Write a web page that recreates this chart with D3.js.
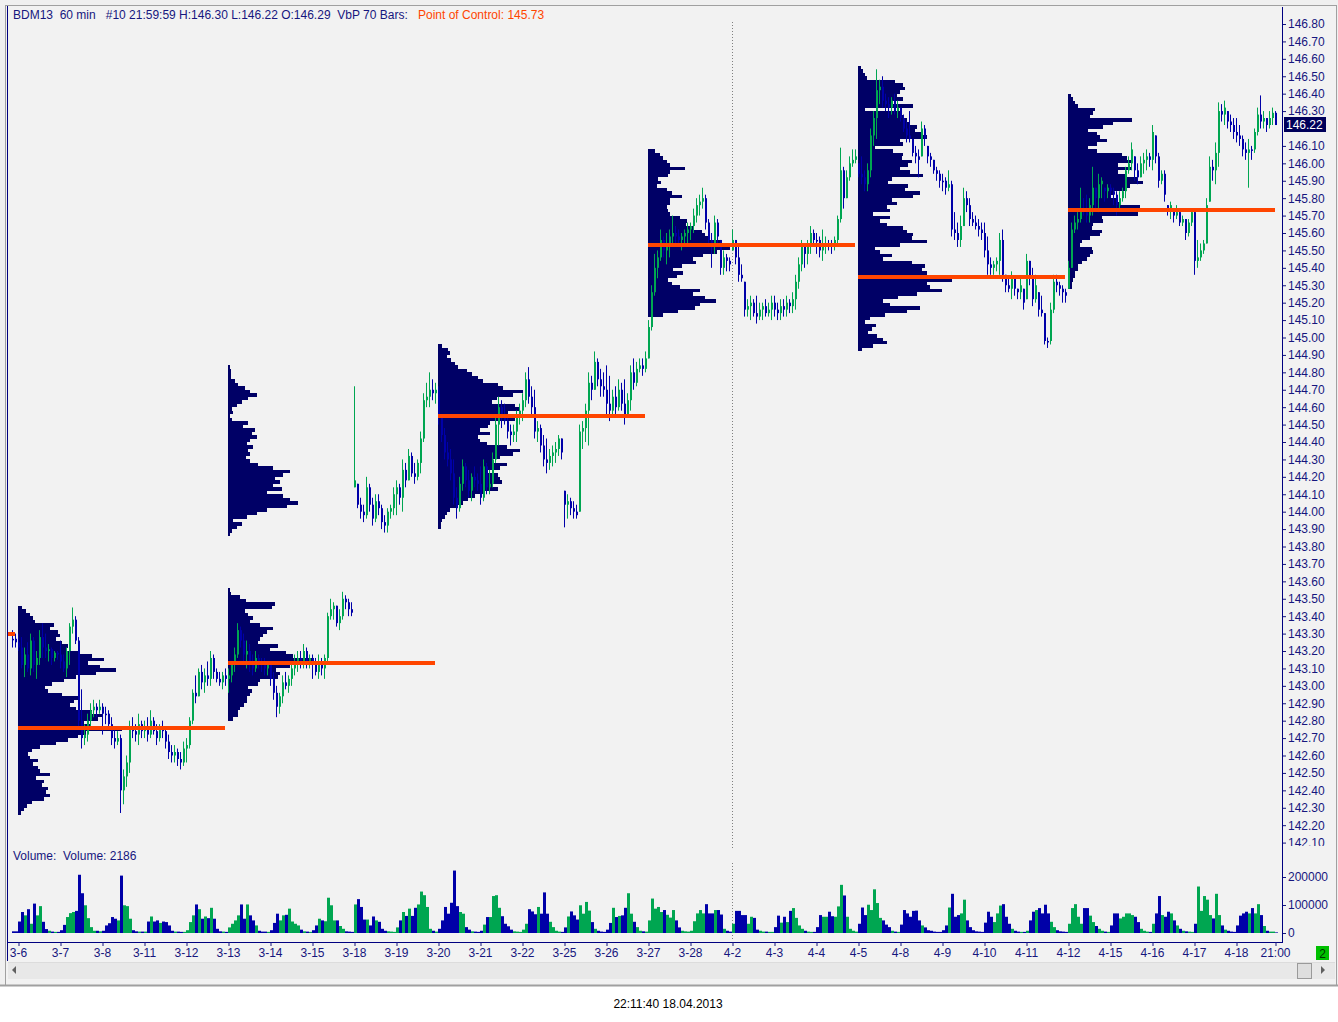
<!DOCTYPE html>
<html>
<head>
<meta charset="utf-8">
<script src="https://cdn.jsdelivr.net/npm/d3@7"></script>
<style>
html, body { margin: 0; padding: 0; background: #fff; }
svg { display: block; font-family: "Liberation Sans", Arial, sans-serif; }
</style>
</head>
<body>
<svg id="chart" width="1338" height="1022"></svg>
<script>

// ---- data ----

var dateLabels = ["3-6","3-7","3-8","3-11","3-12","3-13","3-14","3-15","3-18","3-19",
	"3-20","3-21","3-22","3-25","3-26","3-27","3-28","4-2","4-3","4-4",
	"4-5","4-8","4-9","4-10","4-11","4-12","4-15","4-16","4-17","4-18"];
var lastLabel = "21:00";
var barsPerDay = 14;

// hourly bars [high, low, close], one row per day; first row = tail of 3-5
var hlcDays = [
	[[143.32,143.22,143.27],[143.30,143.22,143.25]],
	[[143.30,143.20,143.22],[143.28,143.10,143.12],[143.22,143.05,143.18],[143.25,143.08,143.10],[143.30,143.06,143.26],[143.28,143.08,143.12],[143.20,143.04,143.16],[143.32,143.12,143.28],[143.36,143.16,143.22],[143.30,143.16,143.20],[143.24,143.14,143.21],[143.22,143.12,143.16],[143.20,143.14,143.19],[143.20,143.15,143.18]],
	[[143.26,143.10,143.14],[143.18,143.08,143.10],[143.22,143.05,143.20],[143.36,143.12,143.34],[143.45,143.30,143.38],[143.40,143.24,143.26],[143.28,142.76,142.80],[142.98,142.64,142.70],[142.78,142.66,142.72],[142.84,142.68,142.80],[142.90,142.76,142.86],[142.92,142.82,142.88],[142.90,142.82,142.86],[142.92,142.84,142.88]],
	[[142.90,142.72,142.84],[142.88,142.78,142.84],[142.86,142.76,142.78],[142.82,142.66,142.70],[142.76,142.64,142.68],[142.74,142.66,142.70],[142.72,142.27,142.40],[142.52,142.32,142.48],[142.60,142.42,142.56],[142.80,142.50,142.76],[142.82,142.70,142.74],[142.78,142.68,142.72],[142.84,142.66,142.78],[142.80,142.70,142.74]],
	[[142.80,142.70,142.76],[142.82,142.68,142.72],[142.86,142.70,142.80],[142.82,142.72,142.74],[142.78,142.66,142.70],[142.78,142.68,142.76],[142.80,142.70,142.74],[142.76,142.64,142.68],[142.72,142.58,142.62],[142.66,142.56,142.60],[142.66,142.56,142.62],[142.64,142.54,142.58],[142.62,142.52,142.56],[142.68,142.54,142.64]],
	[[142.70,142.56,142.66],[142.82,142.64,142.80],[142.98,142.78,142.96],[143.06,142.90,142.94],[143.10,142.94,143.08],[143.12,142.98,143.02],[143.10,142.96,143.06],[143.14,143.00,143.04],[143.20,143.00,143.16],[143.18,143.04,143.08],[143.10,143.02,143.04],[143.08,143.00,143.02],[143.08,142.98,143.06],[143.10,143.00,143.04]],
	[[143.10,142.96,143.06],[143.14,143.02,143.12],[143.22,143.08,143.18],[143.36,143.16,143.32],[143.34,143.22,143.26],[143.30,143.14,143.18],[143.26,143.10,143.20],[143.24,143.08,143.12],[143.18,143.06,143.10],[143.20,143.08,143.16],[143.18,143.10,143.14],[143.16,143.08,143.12],[143.16,143.06,143.10],[143.14,143.06,143.12]],
	[[143.14,143.00,143.04],[143.08,142.92,142.96],[143.00,142.82,142.88],[142.96,142.84,142.94],[143.06,142.90,143.02],[143.08,142.98,143.00],[143.06,142.96,143.04],[143.12,143.00,143.10],[143.18,143.06,143.14],[143.20,143.08,143.16],[143.20,143.10,143.12],[143.24,143.10,143.20],[143.22,143.10,143.14],[143.18,143.10,143.16]],
	[[143.18,143.04,143.12],[143.16,143.06,143.08],[143.18,143.04,143.14],[143.16,143.06,143.10],[143.18,143.04,143.16],[143.42,143.12,143.40],[143.50,143.38,143.44],[143.48,143.38,143.46],[143.46,143.34,143.36],[143.44,143.32,143.40],[143.54,143.38,143.50],[143.52,143.44,143.48],[143.50,143.40,143.44],[143.48,143.40,143.42]],
	[[144.72,144.14,144.18],[144.16,144.02,144.04],[144.08,143.96,144.00],[144.04,143.94,143.98],[144.20,143.96,144.14],[144.16,144.00,144.04],[144.08,143.92,143.96],[144.10,143.94,144.06],[144.10,143.98,144.02],[144.04,143.90,143.94],[143.98,143.88,143.92],[144.02,143.88,144.00],[144.04,143.96,144.02],[144.14,143.98,144.10]],
	[[144.18,143.98,144.14],[144.16,144.04,144.08],[144.30,144.00,144.24],[144.28,144.14,144.18],[144.36,144.18,144.32],[144.34,144.20,144.22],[144.28,144.16,144.20],[144.30,144.18,144.28],[144.46,144.22,144.42],[144.68,144.40,144.64],[144.74,144.60,144.66],[144.80,144.60,144.70],[144.76,144.64,144.68],[144.74,144.62,144.70]],
	[[144.72,144.50,144.54],[144.54,144.40,144.44],[144.48,144.30,144.34],[144.40,144.26,144.30],[144.36,144.18,144.22],[144.30,144.04,144.08],[144.14,143.96,144.02],[144.20,144.00,144.16],[144.30,144.12,144.26],[144.28,144.14,144.18],[144.24,144.08,144.12],[144.22,144.06,144.20],[144.26,144.14,144.18],[144.22,144.12,144.16]],
	[[144.26,144.04,144.08],[144.30,144.06,144.26],[144.28,144.10,144.14],[144.24,144.10,144.16],[144.34,144.14,144.30],[144.54,144.28,144.50],[144.66,144.38,144.60],[144.64,144.48,144.56],[144.62,144.50,144.52],[144.56,144.42,144.46],[144.50,144.38,144.44],[144.50,144.40,144.46],[144.58,144.40,144.54],[144.62,144.50,144.58]],
	[[144.68,144.52,144.64],[144.80,144.60,144.76],[144.83,144.62,144.66],[144.72,144.56,144.60],[144.70,144.42,144.46],[144.52,144.40,144.48],[144.50,144.34,144.38],[144.44,144.26,144.30],[144.42,144.22,144.28],[144.36,144.24,144.32],[144.38,144.26,144.34],[144.40,144.28,144.36],[144.44,144.32,144.42],[144.42,144.30,144.34]],
	[[144.12,143.91,144.04],[144.10,143.96,144.06],[144.08,143.98,144.02],[144.06,143.96,144.00],[144.04,143.96,143.98],[144.50,144.00,144.46],[144.52,144.36,144.48],[144.62,144.40,144.58],[144.80,144.38,144.74],[144.78,144.64,144.70],[144.92,144.70,144.86],[144.88,144.72,144.76],[144.82,144.66,144.72],[144.80,144.66,144.70]],
	[[144.84,144.54,144.62],[144.78,144.52,144.58],[144.70,144.54,144.66],[144.72,144.56,144.60],[144.76,144.58,144.70],[144.74,144.58,144.62],[144.76,144.50,144.56],[144.68,144.54,144.64],[144.84,144.58,144.80],[144.88,144.70,144.74],[144.86,144.72,144.82],[144.88,144.80,144.84],[144.88,144.78,144.82],[144.92,144.80,144.88]],
	[[145.10,144.88,145.06],[145.30,145.04,145.26],[145.48,145.24,145.40],[145.50,145.34,145.46],[145.62,145.44,145.56],[145.58,145.46,145.50],[145.60,145.42,145.54],[145.62,145.46,145.58],[145.70,145.54,145.60],[145.64,145.54,145.58],[145.62,145.52,145.56],[145.60,145.50,145.58],[145.62,145.52,145.60],[145.66,145.54,145.62]],
	[[145.66,145.56,145.64],[145.74,145.60,145.70],[145.80,145.66,145.76],[145.82,145.70,145.78],[145.86,145.74,145.80],[145.82,145.62,145.66],[145.68,145.52,145.56],[145.60,145.40,145.52],[145.70,145.48,145.66],[145.68,145.54,145.58],[145.56,145.36,145.40],[145.50,145.36,145.46],[145.48,145.38,145.44],[145.46,145.38,145.42]],
	[[145.62,145.50,145.56],[145.56,145.42,145.46],[145.52,145.32,145.36],[145.42,145.32,145.34],[145.32,145.12,145.16],[145.22,145.12,145.18],[145.24,145.10,145.20],[145.22,145.12,145.14],[145.24,145.08,145.12],[145.20,145.10,145.16],[145.20,145.10,145.18],[145.22,145.12,145.14],[145.20,145.12,145.16],[145.24,145.10,145.20]],
	[[145.24,145.12,145.16],[145.20,145.10,145.14],[145.22,145.10,145.18],[145.22,145.12,145.16],[145.24,145.12,145.20],[145.22,145.14,145.18],[145.26,145.14,145.22],[145.36,145.16,145.32],[145.46,145.28,145.42],[145.56,145.38,145.52],[145.54,145.40,145.48],[145.56,145.42,145.52],[145.64,145.48,145.60],[145.62,145.52,145.56]],
	[[145.60,145.48,145.56],[145.58,145.46,145.50],[145.62,145.44,145.52],[145.58,145.48,145.54],[145.56,145.50,145.54],[145.56,145.48,145.52],[145.58,145.50,145.56],[145.70,145.52,145.68],[146.09,145.66,145.96],[145.98,145.74,145.80],[145.96,145.80,145.92],[146.04,145.90,146.00],[146.08,145.98,146.02],[146.08,146.00,146.04]],
	[[146.00,145.92,145.94],[146.04,145.88,145.92],[145.96,145.84,145.88],[146.00,145.84,145.96],[146.20,145.92,146.16],[146.30,146.10,146.26],[146.54,146.14,146.42],[146.48,146.34,146.44],[146.50,146.32,146.36],[146.40,146.30,146.34],[146.38,146.26,146.32],[146.38,146.28,146.36],[146.40,146.28,146.30],[146.36,146.26,146.32]],
	[[146.32,146.24,146.26],[146.28,146.18,146.20],[146.24,146.12,146.16],[146.30,146.12,146.14],[146.14,146.04,146.06],[146.10,146.00,146.04],[146.08,145.92,146.02],[146.24,146.04,146.20],[146.22,146.10,146.14],[146.10,146.00,146.04],[146.06,145.98,146.02],[146.02,145.94,145.96],[145.98,145.90,145.94],[145.96,145.86,145.90]],
	[[145.94,145.84,145.90],[145.92,145.82,145.86],[145.96,145.84,145.88],[145.90,145.58,145.62],[145.72,145.56,145.60],[145.66,145.52,145.56],[145.70,145.52,145.64],[145.86,145.64,145.80],[145.84,145.72,145.76],[145.80,145.64,145.68],[145.72,145.64,145.66],[145.70,145.62,145.64],[145.68,145.58,145.62],[145.66,145.56,145.60]],
	[[145.66,145.46,145.50],[145.58,145.36,145.42],[145.46,145.36,145.40],[145.44,145.36,145.42],[145.46,145.38,145.44],[145.60,145.36,145.56],[145.62,145.32,145.36],[145.36,145.26,145.30],[145.34,145.26,145.28],[145.38,145.22,145.34],[145.34,145.24,145.28],[145.28,145.22,145.26],[145.34,145.22,145.30],[145.28,145.16,145.20]],
	[[145.48,145.22,145.44],[145.44,145.30,145.34],[145.40,145.18,145.22],[145.36,145.20,145.30],[145.26,145.12,145.16],[145.24,145.12,145.14],[145.14,144.96,144.98],[145.00,144.94,144.98],[145.20,144.96,145.16],[145.36,145.14,145.32],[145.36,145.26,145.30],[145.32,145.24,145.28],[145.30,145.20,145.26],[145.28,145.20,145.24]],
	[[145.44,145.28,145.40],[145.66,145.40,145.62],[145.70,145.60,145.66],[145.72,145.62,145.68],[145.86,145.66,145.74],[145.80,145.70,145.72],[145.82,145.66,145.70],[145.80,145.66,145.76],[145.98,145.70,145.86],[145.86,145.74,145.80],[145.94,145.72,145.88],[145.92,145.80,145.90],[145.86,145.78,145.84],[145.88,145.80,145.86]],
	[[145.88,145.80,145.84],[145.86,145.76,145.82],[145.84,145.70,145.76],[145.84,145.74,145.80],[145.86,145.78,145.84],[145.98,145.80,145.96],[146.04,145.94,146.00],[146.12,145.96,146.08],[146.04,145.90,145.96],[146.00,145.88,145.92],[146.04,145.92,146.00],[146.06,145.94,146.02],[146.08,145.96,146.04],[146.06,145.98,146.02]],
	[[146.22,145.96,146.18],[146.16,146.00,146.04],[146.06,145.86,145.90],[145.96,145.88,145.94],[145.96,145.78,145.82],[145.76,145.70,145.74],[145.78,145.68,145.76],[145.74,145.66,145.70],[145.76,145.68,145.72],[145.72,145.64,145.66],[145.70,145.64,145.68],[145.68,145.56,145.60],[145.68,145.58,145.66],[145.74,145.64,145.72]],
	[[145.74,145.36,145.44],[145.56,145.40,145.46],[145.54,145.44,145.50],[145.56,145.48,145.54],[145.80,145.54,145.76],[146.04,145.78,145.98],[146.02,145.90,145.96],[146.12,145.88,146.06],[146.35,145.98,146.30],[146.34,146.24,146.28],[146.36,146.22,146.32],[146.30,146.20,146.24],[146.28,146.18,146.22],[146.26,146.14,146.18]],
	[[146.26,146.12,146.16],[146.22,146.10,146.14],[146.16,146.04,146.08],[146.12,146.02,146.06],[146.14,145.86,146.08],[146.10,146.02,146.08],[146.20,146.06,146.18],[146.32,146.16,146.28],[146.39,146.20,146.24],[146.30,146.20,146.26],[146.26,146.18,146.22],[146.30,146.20,146.26],[146.32,146.22,146.29],[146.30,146.22,146.22]]
];

// hourly volume, thousands of contracts
var volDays = [
	[6,6],
	[41,75,63,85,33,105,63,96,40,14,8,5,4,4],
	[10,29,57,71,75,79,208,142,99,53,21,8,8,6],
	[8,27,35,57,51,45,205,99,96,51,10,6,5,5],
	[5,41,59,41,45,36,41,39,27,8,5,5,4,4],
	[10,39,63,102,85,51,59,53,90,51,15,6,5,4],
	[20,33,45,63,102,51,102,63,45,27,8,5,5,4],
	[10,36,69,45,63,65,87,41,33,27,12,6,5,4],
	[10,27,51,45,42,126,99,45,45,25,15,6,5,4],
	[102,121,93,48,48,27,59,45,40,15,8,6,5,4],
	[20,45,75,61,87,61,90,102,148,135,93,15,8,5],
	[15,45,93,69,108,223,96,75,69,21,12,6,5,4],
	[8,30,57,57,132,135,90,60,33,24,12,6,5,4],
	[12,33,85,77,67,93,69,145,69,40,21,8,5,4],
	[20,59,77,63,48,99,69,111,80,39,15,8,5,4],
	[12,36,90,57,61,63,90,142,69,40,21,8,6,5],
	[45,123,87,93,75,82,65,55,82,45,20,8,6,5],
	[8,42,70,82,70,103,70,70,82,82,66,15,8,5],
	[33,79,79,64,64,33,58,54,12,8,5,5,4,4],
	[21,62,37,58,39,79,89,54,27,15,8,5,4,4],
	[21,64,58,58,76,60,58,95,172,134,58,15,8,5],
	[33,91,64,101,82,156,107,54,45,30,21,8,5,4],
	[30,82,70,58,79,80,45,27,20,10,8,5,4,4],
	[10,27,91,140,58,64,70,119,45,21,10,6,5,4],
	[37,76,58,39,70,98,103,58,33,15,8,5,4,4],
	[8,45,76,82,89,70,101,70,40,21,10,6,5,4],
	[33,89,103,58,33,89,89,62,39,25,15,8,5,4],
	[27,70,70,52,58,70,70,64,58,39,15,8,5,4],
	[33,70,132,64,58,76,70,45,27,15,8,6,5,4],
	[33,166,79,132,119,64,52,140,64,27,12,8,5,4],
	[27,62,70,76,70,89,70,103,64,25,8,5,5,2.186]
];

// volume by price, 70 bars each; rows of 0.02 listed from the top price down
var vbpBars = 70;
var vbpStep = 0.02;
var vbpTops = [143.45, 144.83, 144.95, 146.07, 146.55, 146.39];
var vbpRows = [
	[4,8,12,15,17,36,32,40,42,38,44,50,48,62,74,86,70,82,98,78,58,46,34,27,30,44,62,56,52,58,74,84,80,66,72,104,68,60,50,38,22,14,10,12,20,15,20,22,32,18,26,24,30,28,32,26,14,9,6,3],
	[2,3,3,3,7,10,17,22,29,20,14,9,4,5,2,4,20,15,27,24,29,22,19,25,20,22,18,22,30,45,62,55,47,52,45,54,39,55,62,70,59,39,29,19,5,14,9,4,2,
	 0,0,0,0,0,0,0,0,0,0,0,0,0,0,0,
	 2,3,12,18,47,44,17,20,25,22,32,45,39,35,32,30,50,42,58,65,85,110,62,48,52,50,32,30,20,24,22,19,19,16,12,10,10,5],
	[4,10,12,9,13,17,20,29,34,40,45,60,65,85,75,59,54,77,82,70,112,77,52,50,42,52,40,42,49,69,82,75,62,55,69,62,49,60,62,64,55,60,45,37,30,25,20,12,9,7,4,3,3],
	[7,12,15,19,22,37,22,20,10,13,9,19,24,34,22,22,19,20,22,32,39,38,45,54,57,60,72,110,82,69,55,45,48,34,25,35,29,20,24,32,52,45,57,68,52,47,30,15],
	[3,5,7,9,37,45,47,42,39,45,35,55,7,42,45,49,52,59,57,65,69,42,45,17,35,45,44,54,50,42,52,65,34,30,50,47,62,55,34,39,29,32,15,32,22,29,45,49,55,54,69,42,17,22,34,25,54,67,64,69,120,94,69,72,84,59,40,25,32,62,49,27,12,7,18,14,10,19,25,29,15,4],
	[3,5,7,10,27,25,22,64,45,35,20,29,32,39,29,20,29,54,59,64,50,64,50,59,70,75,62,59,45,42,49,52,72,120,70,34,35,25,24,34,32,22,14,12,24,25,22,19,14,10,10,7,7,5,4,4]
];

// point of control per 70-bar period (period -1 = the one before the chart)
var pocPeriods = [-1, 0, 1, 2, 3, 4, 5];
var pocPrices  = [143.30, 142.76, 143.13, 144.55, 145.53, 145.35, 145.73];

var priceTicks = d3.range(1421, 1469).map(function(d) { return d / 10; });
var volumeTicks = [0, 100000, 200000];

var lastPrice = 146.22;
var titleText = "BDM13  60 min   #10 21:59:59 H:146.30 L:146.22 O:146.29  VbP 70 Bars:";
var pocText = "Point of Control: " + pocPrices[pocPrices.length - 1].toFixed(2);
var volumeText = "Volume:  Volume: 2186";
var stampText = "22:11:40 18.04.2013";

// ---- styles ----

var NAVY   = "#000066";
var BLUE   = "#0000a8";
var GREEN  = "#00a651";
var ORANGE = "#ff4500";
var TEXT   = "#16167e";

// ---- bars ----

var firstIndex = -hlcDays[0].length;
var flatHlc = [].concat.apply([], hlcDays);
var flatVol = [].concat.apply([], volDays);

var bars = flatHlc.map(function(b, k) {
	return { i: k + firstIndex, h: b[0], l: b[1], c: b[2], v: flatVol[k] * 1000 };
});
bars.forEach(function(b, k) {
	var prev = k > 0 ? bars[k - 1].c : b.c;
	b.o  = Math.max(b.l, Math.min(b.h, prev));
	b.up = b.c > b.o;
});

var lastBar = (dateLabels.length * barsPerDay) - 1;

// ---- scales ----

var x = d3.scaleLinear().domain([0, lastBar]).range([18, 18 + 3 * lastBar]);
var y = d3.scaleLinear().domain([142.10, 146.80]).range([842.6, 24]);
var yVol = d3.scaleLinear().domain([0, 200000]).range([933, 877]);
var vbpW = d3.scaleLinear().domain([0, 100]).range([0, 100]);

var svg = d3.select("#chart");

// window frame
svg.append("rect").attr("x", 0).attr("y", 0).attr("width", 1338).attr("height", 987).attr("fill", "#f0f0f0");
svg.append("rect").attr("x", 5.5).attr("y", 5.5).attr("width", 1331).attr("height", 980)
	.attr("fill", "#f2f2f2").attr("stroke", "#a0a0a0").attr("stroke-width", 1);
svg.append("line").attr("x1", 7.5).attr("x2", 7.5).attr("y1", 6).attr("y2", 961)
	.attr("stroke", "#000080").attr("stroke-width", 1);

var defs = svg.append("defs");
defs.append("clipPath").attr("id", "plotClip")
	.append("rect").attr("x", 8).attr("y", 7).attr("width", 1273).attr("height", 841);
defs.append("clipPath").attr("id", "axisClip")
	.append("rect").attr("x", 1282).attr("y", 7).attr("width", 56).attr("height", 839);

var plot = svg.append("g").attr("clip-path", "url(#plotClip)");

// week separator
var sepX = Math.round(x(17 * barsPerDay)) + 0.5;
plot.append("line")
	.attr("x1", sepX).attr("x2", sepX).attr("y1", 22).attr("y2", 848)
	.attr("stroke", "#808080").attr("stroke-dasharray", "1,2");
svg.append("line")
	.attr("x1", sepX).attr("x2", sepX).attr("y1", 863).attr("y2", 941)
	.attr("stroke", "#808080").attr("stroke-dasharray", "1,2");

// volume profiles
var rows = [];
vbpRows.forEach(function(list, k) {
	list.forEach(function(v, j) {
		if (v > 0) rows.push({ k: k, p: vbpTops[k] - j * vbpStep, v: v });
	});
});

plot.append("g").selectAll("rect")
	.data(rows)
	.enter().append("rect")
	.attr("x", function(d) { return Math.round(x(d.k * vbpBars)); })
	.attr("y", function(d) { return Math.round(y(d.p + vbpStep / 2)); })
	.attr("width", function(d) { return Math.round(vbpW(d.v)); })
	.attr("height", function(d) { return Math.round(y(d.p - vbpStep / 2)) - Math.round(y(d.p + vbpStep / 2)); })
	.attr("fill", NAVY);

// price bars
var candles = plot.append("g").selectAll("g")
	.data(bars)
	.enter().append("g");

candles.append("line")
	.attr("x1", function(d) { return Math.round(x(d.i)) + 0.5; })
	.attr("x2", function(d) { return Math.round(x(d.i)) + 0.5; })
	.attr("y1", function(d) { return y(d.h); })
	.attr("y2", function(d) { return y(d.l); })
	.attr("stroke", function(d) { return d.up ? GREEN : BLUE; })
	.attr("stroke-width", 1);

candles.append("rect")
	.attr("x", function(d) { return Math.round(x(d.i)); })
	.attr("y", function(d) { return Math.min(y(d.o), y(d.c)); })
	.attr("width", 2)
	.attr("height", function(d) { return Math.max(1.5, Math.abs(y(d.o) - y(d.c))); })
	.attr("fill", function(d) { return d.up ? GREEN : BLUE; });

// points of control
plot.append("g").selectAll("rect")
	.data(pocPrices)
	.enter().append("rect")
	.attr("x", function(d, k) { return Math.round(x(pocPeriods[k] * vbpBars)); })
	.attr("width", function(d, k) {
		return Math.round(x(pocPeriods[k] * vbpBars + vbpBars - 1)) - Math.round(x(pocPeriods[k] * vbpBars));
	})
	.attr("y", function(d) { return Math.round(y(d)) - 2; })
	.attr("height", 4)
	.attr("fill", ORANGE);

// title
var title = svg.append("text")
	.attr("x", 13).attr("y", 19)
	.attr("font-size", 12)
	.style("white-space", "pre")
	.attr("fill", TEXT);
title.append("tspan").text(titleText);
title.append("tspan").attr("x", 418).attr("fill", ORANGE).text(pocText);

// price axis (the label under the last-price box is hidden, as on screen)
var visibleTicks = priceTicks.filter(function(p) { return Math.abs(y(p) - y(lastPrice)) > 6; });
var priceAxis = svg.append("g")
	.attr("clip-path", "url(#axisClip)")
	.append("g")
	.attr("transform", "translate(1282,0)")
	.call(d3.axisRight(y).tickValues(visibleTicks).tickFormat(d3.format(".2f")).tickSize(4).tickPadding(2));
priceAxis.select(".domain").remove();
priceAxis.selectAll("line").attr("stroke", TEXT);
priceAxis.selectAll("text").attr("fill", TEXT).attr("font-size", 12)
	.attr("font-family", "Liberation Sans, Arial, sans-serif");

// last price marker
svg.append("rect")
	.attr("x", 1284).attr("y", Math.round(y(lastPrice)) - 8)
	.attr("width", 42).attr("height", 15)
	.attr("fill", "#00005a");
svg.append("text")
	.attr("x", 1286).attr("y", Math.round(y(lastPrice)) + 4)
	.attr("font-size", 12).attr("fill", "#fff")
	.text(lastPrice.toFixed(2));

// volume panel
svg.append("text")
	.attr("x", 13).attr("y", 860)
	.attr("font-size", 12).attr("fill", TEXT)
	.style("white-space", "pre")
	.text(volumeText);

svg.append("g").selectAll("rect")
	.data(bars.filter(function(d) { return x(d.i) >= 8; }))
	.enter().append("rect")
	.attr("x", function(d) { return Math.round(x(d.i)); })
	.attr("y", function(d) { return yVol(d.v); })
	.attr("width", 3)
	.attr("height", function(d) { return yVol(0) - yVol(d.v); })
	.attr("fill", function(d) { return d.up ? GREEN : BLUE; });

var volAxis = svg.append("g")
	.attr("transform", "translate(1282,0)")
	.call(d3.axisRight(yVol).tickValues(volumeTicks).tickFormat(d3.format("d")).tickSize(4).tickPadding(2));
volAxis.select(".domain").remove();
volAxis.selectAll("line").attr("stroke", TEXT);
volAxis.selectAll("text").attr("fill", TEXT).attr("font-size", 12)
	.attr("font-family", "Liberation Sans, Arial, sans-serif");

// right axis line
svg.append("line").attr("x1", 1282.5).attr("x2", 1282.5).attr("y1", 7).attr("y2", 942)
	.attr("stroke", "#000080");

// time axis
svg.append("line").attr("x1", 8).attr("x2", 1283).attr("y1", 942.5).attr("y2", 942.5)
	.attr("stroke", "#000080");

var tickIdx = dateLabels.map(function(d, k) { return k * barsPerDay; }).concat([lastBar]);
var tickText = dateLabels.concat([lastLabel]);

var timeAxis = svg.append("g")
	.attr("transform", "translate(0,942)")
	.call(d3.axisBottom(x).tickValues(tickIdx)
		.tickFormat(function(d, k) { return tickText[k]; })
		.tickSize(4).tickPadding(2));
timeAxis.select(".domain").remove();
timeAxis.selectAll("line").attr("stroke", TEXT).attr("transform", "translate(0.5,0)");
timeAxis.selectAll("text").attr("fill", TEXT).attr("font-size", 12)
	.attr("font-family", "Liberation Sans, Arial, sans-serif");

// counter box
svg.append("rect").attr("x", 1316).attr("y", 946).attr("width", 13).attr("height", 14).attr("fill", "#00c000");
svg.append("text").attr("x", 1322.5).attr("y", 957.5).attr("text-anchor", "middle")
	.attr("font-size", 12).attr("fill", "#003300").text("2");

// scroll bar
svg.append("rect").attr("x", 8).attr("y", 962).attr("width", 1327).attr("height", 17).attr("fill", "#e8e8e8");
svg.append("line").attr("x1", 8).attr("x2", 1335).attr("y1", 962.5).attr("y2", 962.5).attr("stroke", "#dcdcdc");
svg.append("path").attr("d", "M16,966 L12,970 L16,974 Z").attr("fill", "#606060");
svg.append("path").attr("d", "M1321,966 L1325,970 L1321,974 Z").attr("fill", "#606060");
svg.append("rect").attr("x", 1297.5).attr("y", 963.5).attr("width", 14).attr("height", 15)
	.attr("fill", "#dedede").attr("stroke", "#9a9a9a");

// bottom border and time stamp
svg.append("rect").attr("x", 0).attr("y", 986).attr("width", 1338).attr("height", 36).attr("fill", "#fff");
svg.append("line").attr("x1", 0).attr("x2", 1338).attr("y1", 985.5).attr("y2", 985.5).attr("stroke", "#a0a0a0").attr("stroke-width", 2);
svg.append("text").attr("x", 668).attr("y", 1008).attr("text-anchor", "middle")
	.attr("font-size", 12).attr("fill", "#000").text(stampText);

</script>
</body>
</html>
